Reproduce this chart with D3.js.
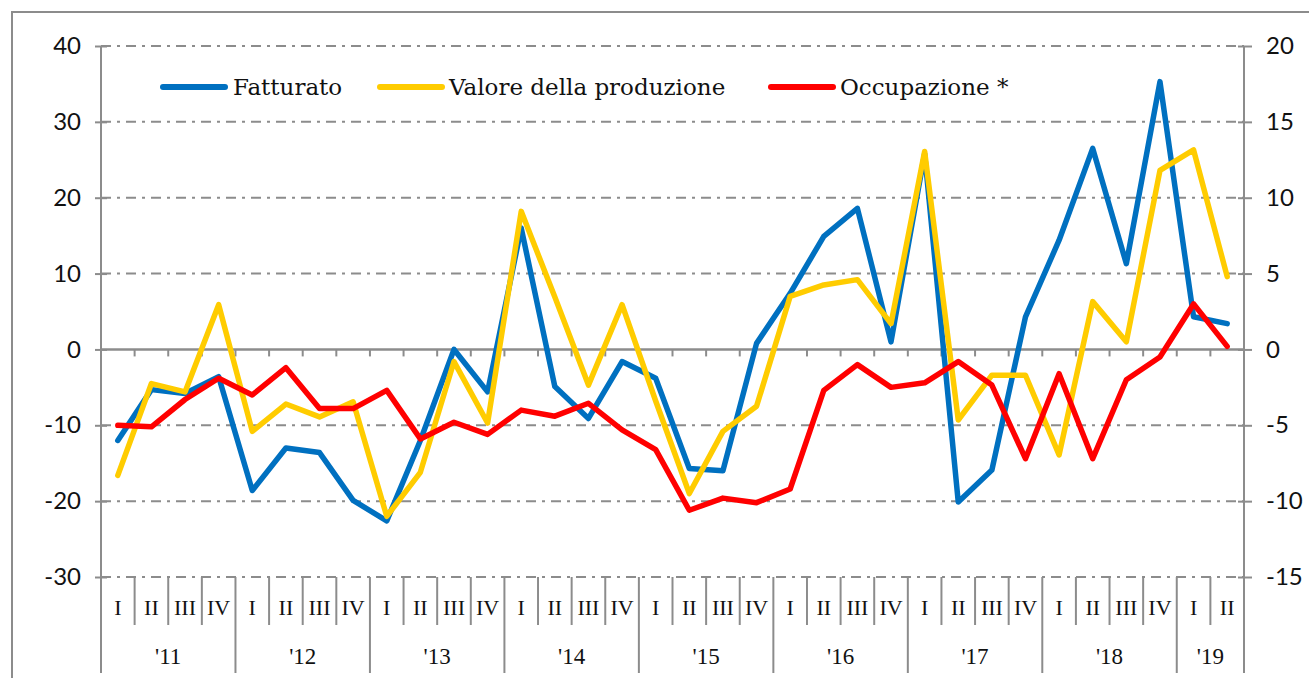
<!DOCTYPE html>
<html><head><meta charset="utf-8">
<script src="https://cdn.jsdelivr.net/npm/d3@7"></script>
<style>html,body{margin:0;padding:0;background:#fff;overflow:hidden}</style>
</head><body>
<svg id="c" width="1309" height="678"></svg>
<script>
const years = ["'11","'12","'13","'14","'15","'16","'17","'18","'19"];
const quarterNames = ["I","II","III","IV"];
const categories = [];
years.forEach((y,yi)=>{ quarterNames.forEach(q=>{ if(!(y==="'19" && categories.filter(c=>c.year==="'19").length>=2)) categories.push({year:y,q:q}); }); });
const fatturato = [-12,-5.3,-5.8,-3.6,-18.6,-13.0,-13.6,-19.9,-22.6,-12.0,0,-5.6,16.0,-4.9,-9.1,-1.6,-3.8,-15.7,-16.0,0.8,7.4,14.9,18.6,1.0,25.8,-20.1,-15.9,4.3,14.4,26.5,11.3,35.3,4.3,3.4];
const valore = [-16.6,-4.5,-5.6,5.9,-10.8,-7.2,-8.9,-6.9,-22.0,-16.2,-1.6,-9.7,18.2,6.9,-4.7,5.9,-6.8,-19.0,-10.8,-7.5,7.0,8.5,9.2,3.4,26.1,-9.3,-3.4,-3.4,-13.9,6.3,1.0,23.6,26.3,9.6];
const occupazione = [-5.0,-5.1,-3.3,-1.9,-3.0,-1.2,-3.9,-3.9,-2.7,-5.9,-4.8,-5.6,-4.0,-4.4,-3.55,-5.3,-6.6,-10.6,-9.8,-10.1,-9.2,-2.7,-1.0,-2.5,-2.2,-0.8,-2.35,-7.2,-1.6,-7.2,-2.0,-0.5,3.0,0.2];
const leftTicks = [-30,-20,-10,0,10,20,30,40];
const rightTicks = [-15,-10,-5,0,5,10,15,20];
const seriesNames = ["Fatturato","Valore della produzione","Occupazione *"];
const colors = ["#0070C0","#FFCC00","#FF0000"];

const svg = d3.select("#c");
const L=101, R=1244, T=46, B=577;
const grey="#8c8c8c";
const x = d3.scaleBand().domain(d3.range(categories.length)).range([L,R]);
const yL = d3.scaleLinear().domain([-30,40]).range([B,T]);
const yR = d3.scaleLinear().domain([-15,20]).range([B,T]);

// outer border
svg.append("rect").attr("x",12).attr("y",12).attr("width",1320).attr("height",700)
  .attr("fill","none").attr("stroke",grey).attr("stroke-width",2);

// gridlines
leftTicks.forEach(v=>{
  if(v===0) return;
  svg.append("line").attr("x1",L).attr("x2",R).attr("y1",yL(v)).attr("y2",yL(v))
    .attr("stroke",grey).attr("stroke-width",2).attr("stroke-dasharray","10,6,3,6");
});
// zero line
svg.append("line").attr("x1",L).attr("x2",R).attr("y1",yL(0)).attr("y2",yL(0))
  .attr("stroke",grey).attr("stroke-width",2.5);
d3.range(1,categories.length).forEach(i=>{
  svg.append("line").attr("x1",x(i)).attr("x2",x(i)).attr("y1",yL(0)).attr("y2",yL(0)+7)
    .attr("stroke",grey).attr("stroke-width",2);
});

const numFont = "Lato, 'DejaVu Sans', sans-serif";
// left axis
const axL = svg.append("g").attr("transform",`translate(${L},0)`)
  .call(d3.axisLeft(yL).tickValues(leftTicks).tickSize(6).tickPadding(14).tickFormat(d=>String(d)));
axL.select(".domain").remove();
axL.selectAll(".tick line").attr("stroke",grey).attr("stroke-width",2).attr("x2",6).attr("x1",-6);
axL.selectAll(".tick text").attr("font-family",numFont).attr("font-size",24).attr("fill","#111");
svg.append("line").attr("x1",L).attr("x2",L).attr("y1",T).attr("y2",673).attr("stroke",grey).attr("stroke-width",2);

// right axis
const axR = svg.append("g").attr("transform",`translate(${R},0)`)
  .call(d3.axisRight(yR).tickValues(rightTicks).tickSize(8).tickPadding(14).tickFormat(d=>String(d)));
axR.select(".domain").remove();
axR.selectAll(".tick line").attr("stroke",grey).attr("stroke-width",2).attr("x1",-6).attr("x2",8);
axR.selectAll(".tick text").attr("font-family",numFont).attr("font-size",24).attr("fill","#111");
svg.append("line").attr("x1",R).attr("x2",R).attr("y1",T).attr("y2",673).attr("stroke",grey).attr("stroke-width",2);

// category axis
categories.forEach((c,i)=>{
  if(i>0){
    const yearStart = c.q==="I";
    svg.append("line").attr("x1",x(i)).attr("x2",x(i)).attr("y1",B).attr("y2",yearStart?673:625)
      .attr("stroke",grey).attr("stroke-width",2);
  }
  svg.append("text").attr("x",x(i)+x.bandwidth()/2).attr("y",615).attr("text-anchor","middle")
    .attr("font-family","'Liberation Serif', serif").attr("font-size",22).attr("fill","#111").text(c.q);
});
years.forEach(y=>{
  const idx = categories.map((c,i)=>c.year===y?i:-1).filter(i=>i>=0);
  const cx = (x(idx[0]) + x(idx[idx.length-1])+x.bandwidth())/2;
  svg.append("text").attr("x",cx).attr("y",664).attr("text-anchor","middle")
    .attr("font-family","'Liberation Serif', serif").attr("font-size",23).attr("fill","#111").text(y);
});

// lines
const mk = (scale)=>d3.line().x((d,i)=>x(i)+x.bandwidth()/2).y(d=>scale(d));
[[fatturato,yL,0],[valore,yL,1],[occupazione,yR,2]].forEach(([data,sc,k])=>{
  svg.append("path").datum(data).attr("d",mk(sc)).attr("fill","none").attr("stroke",colors[k])
    .attr("stroke-width",5.5).attr("stroke-linejoin","round").attr("stroke-linecap","round");
});

// legend
const leg = [[163,233],[380,449],[771,840]];
seriesNames.forEach((n,k)=>{
  svg.append("line").attr("x1",leg[k][0]).attr("x2",leg[k][0]+62).attr("y1",87).attr("y2",87)
    .attr("stroke",colors[k]).attr("stroke-width",6).attr("stroke-linecap","round");
  svg.append("text").attr("x",leg[k][1]).attr("y",95).attr("font-family","'DejaVu Serif', serif")
    .attr("font-size",23).attr("fill","#111").text(n);
});
</script>
</body></html>
